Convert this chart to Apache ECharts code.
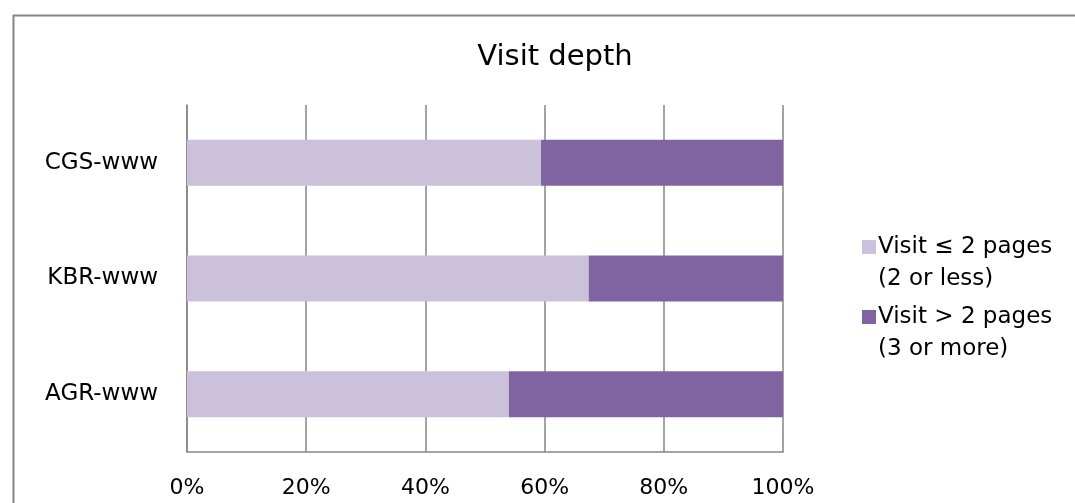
<!DOCTYPE html>
<html><head><meta charset="utf-8">
<script src="https://cdn.jsdelivr.net/npm/echarts@6/dist/echarts.min.js"></script>
<style>html,body{margin:0;padding:0;background:#fff}#c{width:1075px;height:503px}</style>
</head><body><div id="c"></div>
<script>
var categories = ['CGS-www', 'KBR-www', 'AGR-www'];
var seriesNames = ['Visit ≤ 2 pages', 'Visit > 2 pages'];
var seriesNotes = ['(2 or less)', '(3 or more)'];
var lowDepth = [59.4, 67.4, 54.0];
var highDepth = [40.6, 32.6, 46.0];
var tickLabels = ['0%', '20%', '40%', '60%', '80%', '100%'];

var FONT = 'DejaVu Sans';
var chart = echarts.init(document.getElementById('c'));
chart.setOption({
  animation: false,
  backgroundColor: '#fff',
  title: {
    text: 'Visit depth', left: 550, top: 38, textAlign: 'center',
    textStyle: { fontFamily: FONT, fontWeight: 'normal', fontSize: 29, color: '#000' }
  },
  graphic: [{
    type: 'rect', left: 11, top: 13, silent: true,
    shape: { width: 1100, height: 520 },
    style: { fill: 'none', stroke: '#868686', lineWidth: 2 }
  }],
  legend: {
    orient: 'vertical', left: 857, top: 194, itemGap: -26,
    itemWidth: 14, itemHeight: 14, icon: 'rect',
    data: seriesNames,
    formatter: function (n) { return '\n' + n + '\n' + seriesNotes[seriesNames.indexOf(n)]; },
    textStyle: { fontFamily: FONT, fontSize: 23, color: '#000', lineHeight: 32, padding: [0, 0, 0, -3] }
  },
  grid: { left: 187, right: 292, top: 105, bottom: 51, containLabel: false },
  xAxis: {
    type: 'value', min: 0, max: 100, interval: 20,
    axisLine: { show: true, lineStyle: { color: '#868686', width: 1.5 } },
    axisTick: { show: false },
    splitLine: { show: true, lineStyle: { color: '#868686', width: 1.5 } },
    axisLabel: {
      margin: 25, fontFamily: FONT, fontSize: 22, color: '#000',
      formatter: function (v) { return tickLabels[Math.round(v / 20)]; }
    }
  },
  yAxis: {
    type: 'category', data: categories, inverse: true,
    axisLine: { show: true, lineStyle: { color: '#868686', width: 1.5 } },
    axisTick: { show: false },
    axisLabel: { margin: 29, fontFamily: FONT, fontSize: 23, color: '#000' }
  },
  series: [
    { name: seriesNames[0], type: 'bar', stack: 's', data: lowDepth, barWidth: 46,
      itemStyle: { color: '#CCC1DA' } },
    { name: seriesNames[1], type: 'bar', stack: 's', data: highDepth, barWidth: 46,
      itemStyle: { color: '#8064A2' } }
  ]
});
</script></body></html>
